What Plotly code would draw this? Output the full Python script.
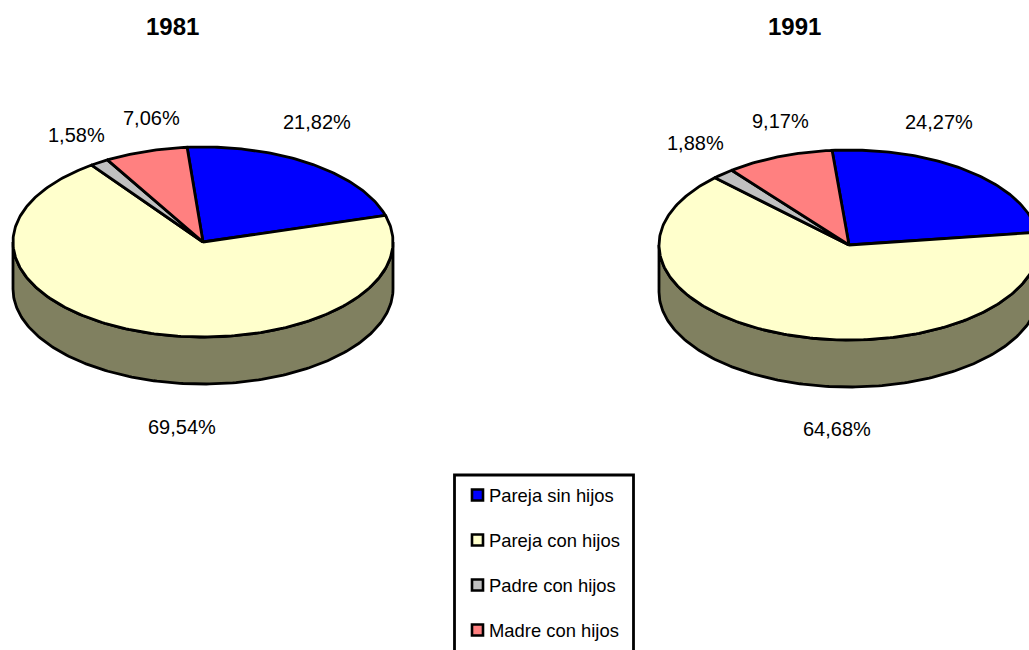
import numpy as np
import plotly.graph_objects as go

categories = ["Pareja sin hijos", "Pareja con hijos", "Padre con hijos", "Madre con hijos"]
colors = ["#0000FF", "#FFFFCC", "#C0C0C0", "#FF8080"]
side_color = "#808060"
years = ["1981", "1991"]
values_1981 = [21.82, 69.54, 1.58, 7.06]
values_1991 = [24.27, 64.68, 1.88, 9.17]
labels_1981 = ["21,82%", "69,54%", "1,58%", "7,06%"]
labels_1991 = ["24,27%", "64,68%", "1,88%", "9,17%"]

FONT = "Liberation Sans"
W, H = 1029, 650
RX, RY, DEPTH = 190, 95, 47

pies = [
    dict(year=years[0], vals=values_1981, labs=labels_1981, cx=203, cy=242, start=-4.8,
         title_xy=(172, 26), lab_xy=[(317, 122), (182, 427), (76, 135), (151, 118)]),
    dict(year=years[1], vals=values_1991, labs=labels_1991, cx=849, cy=245, start=-5.1,
         title_xy=(794, 26), lab_xy=[(939, 122), (837, 429), (695, 143), (780, 121)]),
]

fig = go.Figure()
BLK = dict(color="black", width=2.8)


def ell(cx, cy, a):
    r = np.radians(a)
    return cx + RX * np.sin(r), cy - RY * np.cos(r)


annotations = []
for p in pies:
    cx, cy = p["cx"], p["cy"]
    # side wall (front half of the disc)
    a = np.linspace(90, 270, 181)
    x, y = ell(cx, cy, a)
    sx = np.concatenate([x, x[::-1], x[:1]])
    sy = np.concatenate([y, y[::-1] + DEPTH, y[:1]])
    fig.add_trace(go.Scatter(x=sx, y=sy, mode="lines", fill="toself", fillcolor=side_color,
                             line=BLK, hoverinfo="skip", showlegend=False))
    # top slices
    ang = p["start"]
    for v, c in zip(p["vals"], colors):
        end = ang + v * 3.6
        a = np.linspace(ang, end, max(int(v * 4), 4))
        x, y = ell(cx, cy, a)
        fig.add_trace(go.Scatter(x=np.concatenate([[cx], x, [cx]]),
                                 y=np.concatenate([[cy], y, [cy]]),
                                 mode="lines", fill="toself", fillcolor=c, line=BLK,
                                 name=categories[colors.index(c)], showlegend=False))
        ang = end
    for t, (lx, ly) in zip(p["labs"], p["lab_xy"]):
        annotations.append(dict(x=lx, y=ly, text=t, showarrow=False, xref="x", yref="y",
                                xanchor="center", yanchor="middle",
                                font=dict(family=FONT, size=20, color="black")))
    annotations.append(dict(x=p["title_xy"][0], y=p["title_xy"][1], text="<b>%s</b>" % p["year"],
                            showarrow=False, xref="x", yref="y", xanchor="center", yanchor="middle",
                            font=dict(family=FONT, size=24, color="black")))

# legend
leg_y = [495, 540, 585, 630]
fig.add_shape(type="rect", x0=454.5, x1=633.5, y0=475, y1=660, xref="x", yref="y",
              line=dict(color="black", width=2.8), fillcolor="white", layer="below")
fig.add_trace(go.Scatter(x=[477.5] * 4, y=leg_y, mode="markers", showlegend=False, hoverinfo="skip",
                         marker=dict(symbol="square", size=11, color=colors,
                                     line=dict(color="black", width=2.6))))
for t, y in zip(categories, leg_y):
    annotations.append(dict(x=486.5, y=y, text=t, showarrow=False, xref="x", yref="y",
                            xanchor="left", yanchor="middle",
                            font=dict(family=FONT, size=18.4, color="black")))

fig.update_layout(
    width=W, height=H, margin=dict(l=0, r=0, t=0, b=0), showlegend=False,
    paper_bgcolor="white", plot_bgcolor="white", annotations=annotations,
    xaxis=dict(range=[0, W], visible=False, fixedrange=True),
    yaxis=dict(range=[H, 0], visible=False, fixedrange=True),
)
fig.write_html("out.html", config=dict(displayModeBar=False),
               post_script="document.body.style.margin='0';document.body.style.overflow='hidden';")
